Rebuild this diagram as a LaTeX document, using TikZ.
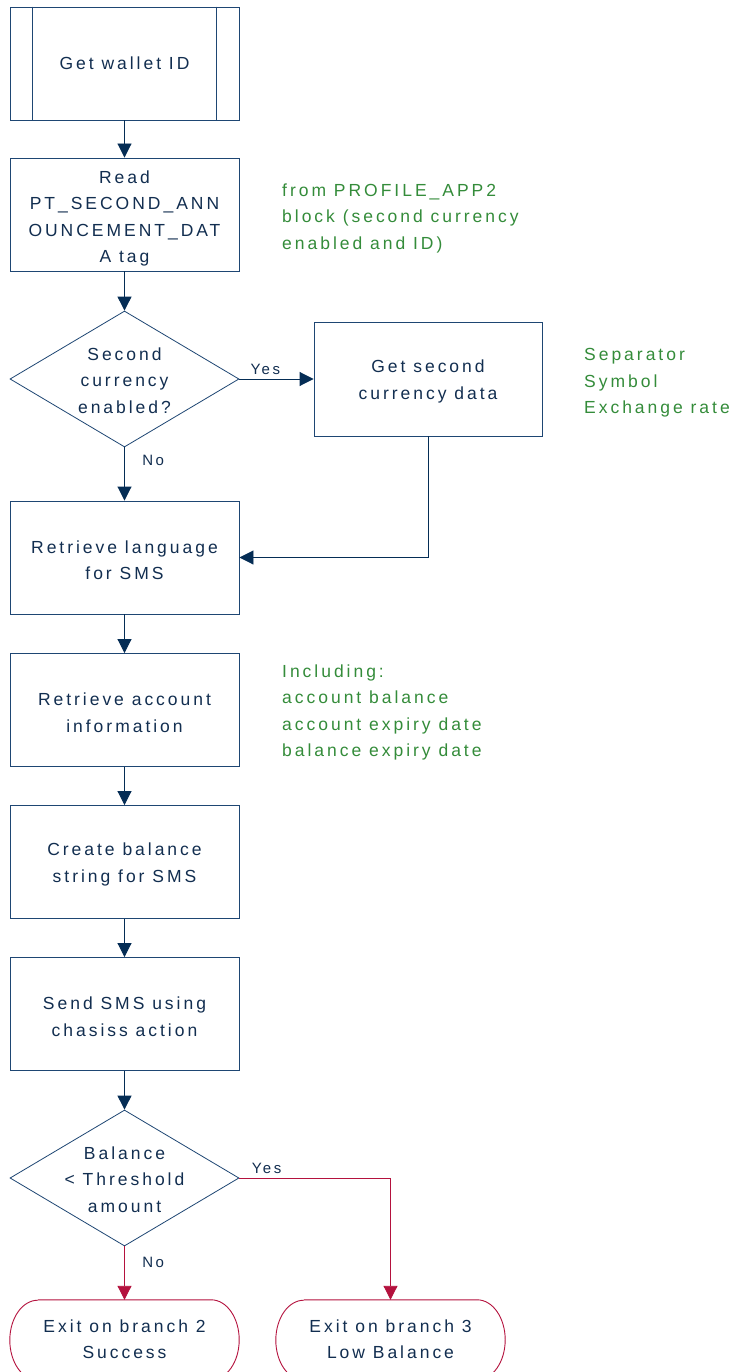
\documentclass[tikz,border=0pt]{standalone}
\usepackage{fontspec}
\setmainfont{Liberation Sans}[LetterSpace=17]
\usetikzlibrary{arrows.meta,shapes.geometric}
\definecolor{navytext}{RGB}{18,46,80}
\definecolor{boxline}{RGB}{30,70,115}
\definecolor{flowline}{RGB}{5,45,85}
\definecolor{notegreen}{RGB}{52,140,58}
\definecolor{exitred}{RGB}{180,18,62}
\tikzset{
  every node/.style={font=\fontsize{17.5}{26.5}\selectfont, text=navytext},
  procbox/.style={draw=boxline, line width=0.9pt, fill=white, minimum width=229pt, minimum height=113pt, inner sep=0pt},
  boxtext/.style={align=center, inner sep=0pt},
  diabox/.style={draw=boxline, line width=0.8pt, diamond, minimum width=229pt, minimum height=136pt, inner sep=0pt},
  termbox/.style={minimum width=229pt, minimum height=80pt, inner sep=0pt},
  note/.style={text=notegreen, align=left, anchor=west, inner sep=0pt},
  lbl/.style={font=\fontsize{15}{18}\selectfont},
  flow/.style={draw=flowline, line width=0.9pt, -{Triangle[length=14pt,width=14pt]}},
  redflow/.style={draw=exitred, line width=0.9pt, -{Triangle[length=14pt,width=14pt]}},
  termline/.style={draw=exitred, line width=0.9pt}
}
\begin{document}
\begin{tikzpicture}[x=1pt,y=-1pt]
\useasboundingbox (0,0) rectangle (741,1372);
\clip (0,0) rectangle (741,1372);
\fill[white] (0,0) rectangle (741,1372);

% boxes
\node[procbox] (b1) at (124.5,63.5) {};
\node[boxtext] (b1t) at (b1.center) {Get wallet ID};
\draw[boxline, line width=0.9pt] ([xshift=23pt]b1.north west) -- ([xshift=23pt]b1.south west);
\draw[boxline, line width=0.9pt] ([xshift=-23pt]b1.north east) -- ([xshift=-23pt]b1.south east);

\node[procbox] (b2) at (124.5,214.5) {};
\node[boxtext] (b2t) at ([yshift=-4pt]b2.center) {Read\\PT\_SECOND\_ANN\\OUNCEMENT\_DAT\\A tag};
\node[note] (n1) at (282,218) {from PROFILE\_APP2\\block (second currency\\enabled and ID)};

\node[diabox] (d1) at (124.5,379) {};
\node[boxtext] (d1t) at ([yshift=-1.5pt]d1.center) {Second\\currency\\enabled?};

\node[procbox, minimum width=228pt, minimum height=114pt] (b3) at (428,379) {};
\node[boxtext] (b3t) at ([yshift=-2.5pt]b3.center) {Get second\\currency data};
\node[note] (n2) at (584,383) {Separator\\Symbol\\Exchange rate};

\node[procbox] (b4) at (124.5,557.5) {};
\node[boxtext] (b4t) at ([yshift=-2.5pt]b4.center) {Retrieve language\\for SMS};
\node[procbox] (b5) at (124.5,710) {};
\node[boxtext] (b5t) at ([yshift=-2.5pt]b5.center) {Retrieve account\\information};
\node[note] (n3) at (282,712.5) {Including:\\account balance\\account expiry date\\balance expiry date};
\node[procbox] (b6) at (124.5,862) {};
\node[boxtext] (b6t) at ([yshift=-2.5pt]b6.center) {Create balance\\string for SMS};
\node[procbox] (b7) at (124.5,1014) {};
\node[boxtext] (b7t) at ([yshift=-2.5pt]b7.center) {Send SMS using\\chasiss action};

\node[diabox] (d2) at (124.5,1178) {};
\node[boxtext] (d2t) at ([yshift=-1.5pt]d2.center) {Balance\\< Threshold\\amount};

\node[termbox] (t1) at (124.5,1340) {};
\node[boxtext] (t1t) at ([yshift=1pt]t1.center) {Exit on branch 2\\Success};
\node[termbox] (t2) at (390.5,1340) {};
\node[boxtext] (t2t) at ([yshift=1pt]t2.center) {Exit on branch 3\\Low Balance};
\foreach \t in {t1,t2}{
  \draw[termline] ([xshift=28pt]\t.north west) -- ([xshift=-28pt]\t.north east)
    arc[start angle=90,end angle=-90,x radius=28pt,y radius=40pt]
    -- ([xshift=28pt]\t.south west)
    arc[start angle=270,end angle=90,x radius=28pt,y radius=40pt];
}

% connectors
\draw[flow] (b1.south) -- (b2.north);
\draw[flow] (b2.south) -- (d1.north);
\draw[flow] (d1.east) -- node[lbl, above, pos=0.35, yshift=1pt] (ly1) {Yes} (b3.west);
\draw[flow] (d1.south) -- node[lbl, right, pos=0.25, xshift=14pt] (ln1) {No} (b4.north);
\draw[flow] (b3.south) |- (b4.east);
\draw[flow] (b4.south) -- (b5.north);
\draw[flow] (b5.south) -- (b6.north);
\draw[flow] (b6.south) -- (b7.north);
\draw[flow] (b7.south) -- (d2.north);
\draw[redflow] (d2.south) -- node[lbl, right, pos=0.3, xshift=14pt] (ln2) {No} (t1.north);
\draw[redflow] (d2.east) -| node[lbl, above, pos=0.09, yshift=1pt] (ly2) {Yes} (t2.north);
\end{tikzpicture}
\end{document}
